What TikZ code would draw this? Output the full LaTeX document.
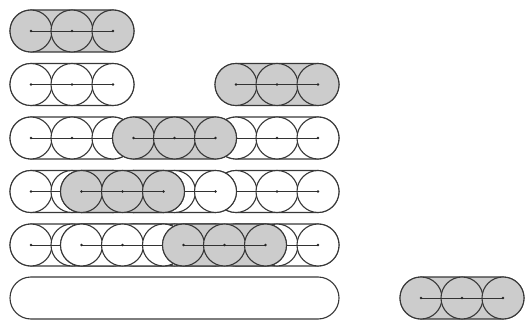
\documentclass[tikz,border=0pt]{standalone}
\usetikzlibrary{shapes.misc}
\tikzset{
  outline/.style={draw=black!78, line width=1.1pt},
  tube/.style={outline, rounded rectangle, minimum height=42pt, inner sep=0pt, outer sep=0pt},
  bead/.style={outline, circle, minimum size=42pt, inner sep=0pt, outer sep=0pt},
  axis/.style={draw=black!80, line width=0.7pt},
  dot/.style={fill=black!85},
  shade/.style={fill=black!20},
  blank/.style={fill=white}
}
% #1 name, #2 x of first bead, #3 y, #4 fill style
\newcommand\trimerdraw[4]{%
  \node[tube, #4, minimum width=124pt] (#1) at ({#2+41},#3) {};
  \node[bead, #4] (#1a) at (#2,#3) {};
  \node[bead, #4] (#1b) at ({#2+41},#3) {};
  \node[bead, #4] (#1c) at ({#2+82},#3) {};
  \draw[axis] (#1a.center) -- (#1c.center);
  \fill[dot] (#1a.center) circle (1.4pt) (#1b.center) circle (1.4pt) (#1c.center) circle (1.4pt);
}
\begin{document}
\begin{tikzpicture}[x=1pt,y=-1pt]
\useasboundingbox[fill=white] (0,0) rectangle (529,320);
% row 1
\trimerdraw{pa}{31}{31}{shade}
% row 2
\trimerdraw{qa}{31}{84.5}{blank}
\trimerdraw{qg}{236}{84.5}{shade}
% row 3
\trimerdraw{ra}{31}{138}{blank}
\trimerdraw{rb}{236}{138}{blank}
\trimerdraw{rg}{133.5}{138}{shade}
% row 4
\trimerdraw{sa}{31}{191.5}{blank}
\trimerdraw{sb}{236}{191.5}{blank}
\trimerdraw{sc}{133.5}{191.5}{blank}
\trimerdraw{sg}{81.5}{191.5}{shade}
% row 5
\trimerdraw{ta}{31}{245}{blank}
\trimerdraw{tb}{236}{245}{blank}
\trimerdraw{tc}{133.5}{245}{blank}
\trimerdraw{td}{81.5}{245}{blank}
\trimerdraw{tg}{183.5}{245}{shade}
% row 6
\node[tube, blank, minimum width=329pt] (channel) at (174.5,298) {};
\trimerdraw{ug}{421}{298}{shade}
\end{tikzpicture}
\end{document}
